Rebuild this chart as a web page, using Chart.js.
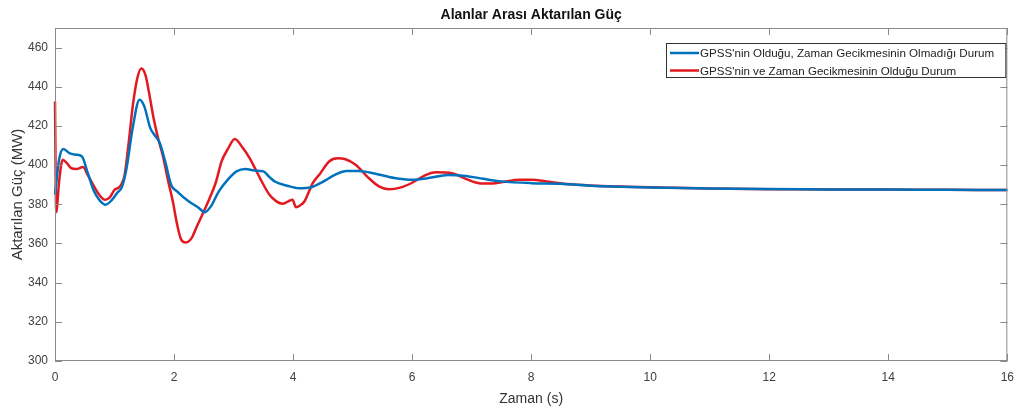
<!DOCTYPE html>
<html>
<head>
<meta charset="utf-8">
<script src="https://cdn.jsdelivr.net/npm/chart.js@4"></script>
<style>
  body { margin: 0; background: #fff; }
  #wrap { width: 1023px; height: 413px; }
</style>
</head>
<body>
<div id="wrap"><canvas id="canvas" width="1023" height="413"></canvas></div>
<script>
// veriler
var chartTitle = 'Alanlar Arası Aktarılan Güç';
var xTitle = 'Zaman (s)';
var yTitle = 'Aktarılan Güç (MW)';
var blueLabel = "GPSS'nin Olduğu, Zaman Gecikmesinin Olmadığı Durum";
var redLabel = "GPSS'nin ve Zaman Gecikmesinin Olduğu Durum";

var blueTime = [0, 0.07, 0.14, 0.25, 0.35, 0.45, 0.55, 0.65, 0.75, 0.85, 0.95, 1.05, 1.12, 1.2, 1.3, 1.42, 1.5, 1.6, 1.67, 1.76, 1.85, 1.95, 2.05, 2.25, 2.4, 2.52, 2.62, 2.75, 2.9, 3.05, 3.2, 3.35, 3.5, 3.6, 3.7, 3.9, 4.1, 4.3, 4.5, 4.7, 4.9, 5.1, 5.4, 5.7, 6.0, 6.3, 6.6, 6.9, 7.2, 7.5, 8.0, 8.5, 9.0, 9.5, 10, 11, 12, 13, 14, 15, 16];
var bluePower = [385, 403, 408.2, 406, 405.3, 404.5, 396, 387, 382, 379.8, 382, 386, 388.5, 398, 418, 433.4, 430, 419, 415.5, 411.3, 402, 390, 386.6, 381.4, 378.5, 376, 379, 386.5, 392.5, 396.8, 398, 397.2, 396.8, 394, 391.5, 389.5, 388.2, 388.7, 391.5, 395, 397, 397, 395.5, 393.4, 392.5, 393.5, 395, 394.5, 393, 391.7, 390.8, 390.5, 389.5, 389, 388.6, 388.1, 387.8, 387.6, 387.5, 387.4, 387.3];

var redTime = [0, 0.02, 0.07, 0.13, 0.2, 0.27, 0.36, 0.47, 0.55, 0.64, 0.74, 0.84, 0.92, 1.0, 1.06, 1.12, 1.17, 1.24, 1.31, 1.38, 1.45, 1.52, 1.58, 1.65, 1.73, 1.81, 1.9, 1.98, 2.05, 2.12, 2.2, 2.3, 2.37, 2.48, 2.6, 2.7, 2.8, 2.9, 3.02, 3.15, 3.27, 3.45, 3.6, 3.72, 3.82, 3.92, 3.99, 4.05, 4.12, 4.19, 4.26, 4.33, 4.45, 4.61, 4.75, 4.88, 5.05, 5.25, 5.45, 5.61, 5.8, 6.0, 6.2, 6.4, 6.67, 6.9, 7.12, 7.34, 7.55, 7.8, 8.0, 8.3, 8.6, 9.1, 9.6, 10.25, 11, 12, 13, 14, 15, 16];
var redPower = [432.5, 376, 392, 402.8, 401, 398.5, 398, 399, 395, 390, 385, 382.3, 383.5, 387.4, 388.3, 390.5, 395, 412, 431, 444, 449.3, 446, 437, 425, 414, 405, 392, 381.4, 370, 362, 360.5, 363, 367.8, 375, 383.2, 391, 402, 408, 413.3, 409, 403.6, 393, 385, 381.5, 380.3, 381.5, 382.3, 378.5, 379.5, 381.4, 386, 390.8, 395.5, 402, 403.5, 403, 400.2, 394, 389, 387.7, 388.5, 391, 394.5, 396.3, 395.9, 393, 390.8, 390.6, 391.5, 392.5, 392.5, 391.5, 390.3, 389.5, 389, 388.5, 388, 387.7, 387.6, 387.5, 387.4, 387.3];

var xTicks = [0, 2, 4, 6, 8, 10, 12, 14, 16];
var yTicks = [300, 320, 340, 360, 380, 400, 420, 440, 460];

var BLUE = 'rgb(0,114,189)';
var RED = 'rgb(226,26,32)';
var AXIS = '#8a8a8a';
var FONT = "'Liberation Sans', Arial, sans-serif";

function toPoints(xs, ys) {
  return xs.map(function(x, i) { return { x: x, y: ys[i] }; });
}

// kutu ve iceri dogru tikler (MATLAB gibi)
var boxPlugin = {
  id: 'box',
  afterDatasetsDraw: function(chart) {
    var ctx = chart.ctx;
    var a = chart.chartArea;
    var xs = chart.scales.x;
    var ys = chart.scales.y;
    var len = 7;
    ctx.save();
    ctx.strokeStyle = AXIS;
    ctx.lineWidth = 1;
    ctx.beginPath();
    ctx.rect(a.left + 0.5, a.top + 0.5, a.right - a.left - 1, a.bottom - a.top - 1);
    xTicks.forEach(function(t) {
      var px = Math.round(xs.getPixelForValue(t)) + 0.5;
      ctx.moveTo(px, a.bottom); ctx.lineTo(px, a.bottom - len);
      ctx.moveTo(px, a.top); ctx.lineTo(px, a.top + len);
    });
    yTicks.forEach(function(t) {
      var py = Math.round(ys.getPixelForValue(t)) + 0.5;
      ctx.moveTo(a.left, py); ctx.lineTo(a.left + len, py);
      ctx.moveTo(a.right, py); ctx.lineTo(a.right - len, py);
    });
    ctx.stroke();
    ctx.restore();
  }
};

// lejant kutusu (grafik icinde, sag ust)
var legendPlugin = {
  id: 'boxLegend',
  afterDraw: function(chart) {
    var ctx = chart.ctx;
    var a = chart.chartArea;
    var x0 = 666, y0 = 43, w = a.right - 2 - x0, h = 34;
    ctx.save();
    ctx.fillStyle = '#fff';
    ctx.fillRect(x0, y0, w, h);
    ctx.strokeStyle = '#333';
    ctx.lineWidth = 1;
    ctx.strokeRect(x0 + 0.5, y0 + 0.5, w, h);
    ctx.font = '11.6px ' + FONT;
    ctx.textBaseline = 'middle';
    chart.data.datasets.forEach(function(ds, i) {
      var y = y0 + 10 + i * 17.5;
      ctx.strokeStyle = ds.borderColor;
      ctx.lineWidth = 2.5;
      ctx.beginPath();
      ctx.moveTo(x0 + 4, y); ctx.lineTo(x0 + 33, y);
      ctx.stroke();
      ctx.fillStyle = '#222';
      ctx.fillText(ds.label, x0 + 34, y + 1);
    });
    ctx.restore();
  }
};

var config = {
  type: 'line',
  data: {
    datasets: [
      {
        label: blueLabel,
        data: toPoints(blueTime, bluePower),
        borderColor: BLUE,
        borderWidth: 2.5,
        pointRadius: 0,
        cubicInterpolationMode: 'monotone',
        clip: 3
      },
      {
        label: redLabel,
        data: toPoints(redTime, redPower),
        borderColor: RED,
        borderWidth: 2.5,
        pointRadius: 0,
        cubicInterpolationMode: 'monotone',
        clip: 3
      }
    ]
  },
  options: {
    responsive: false,
    animation: false,
    layout: { padding: { top: 0, right: 13, left: 0, bottom: 0 } },
    plugins: {
      legend: { display: false },
      tooltip: { enabled: false },
      title: {
        display: true,
        text: chartTitle,
        fullSize: false,
        color: '#111',
        font: { family: FONT, size: 14, weight: 'bold', lineHeight: 1.2 },
        padding: { top: 6.5, bottom: 4.7 }
      }
    },
    scales: {
      x: {
        type: 'linear',
        min: 0,
        max: 16,
        grid: { display: false, drawTicks: false },
        border: { display: false },
        afterBuildTicks: function(s) { s.ticks = xTicks.map(function(v) { return { value: v }; }); },
        afterFit: function(s) { s.height = 52; },
        ticks: { color: '#404040', padding: 9, maxRotation: 0, font: { family: FONT, size: 12 } },
        title: { display: true, text: xTitle, color: '#333', font: { family: FONT, size: 14 }, padding: { top: 0, bottom: 5 } }
      },
      y: {
        min: 300,
        max: 470,
        grid: { display: false, drawTicks: false },
        border: { display: false },
        afterBuildTicks: function(s) { s.ticks = yTicks.map(function(v) { return { value: v }; }); },
        afterFit: function(s) { s.width = 55; },
        ticks: { color: '#404040', padding: 7, font: { family: FONT, size: 12 } },
        title: { display: true, text: yTitle, color: '#333', font: { family: FONT, size: 15 }, padding: { top: 9, bottom: 0 } }
      }
    }
  },
  plugins: [boxPlugin, legendPlugin]
};

var chart = new Chart(document.getElementById('canvas').getContext('2d'), config);
</script>
</body>
</html>
